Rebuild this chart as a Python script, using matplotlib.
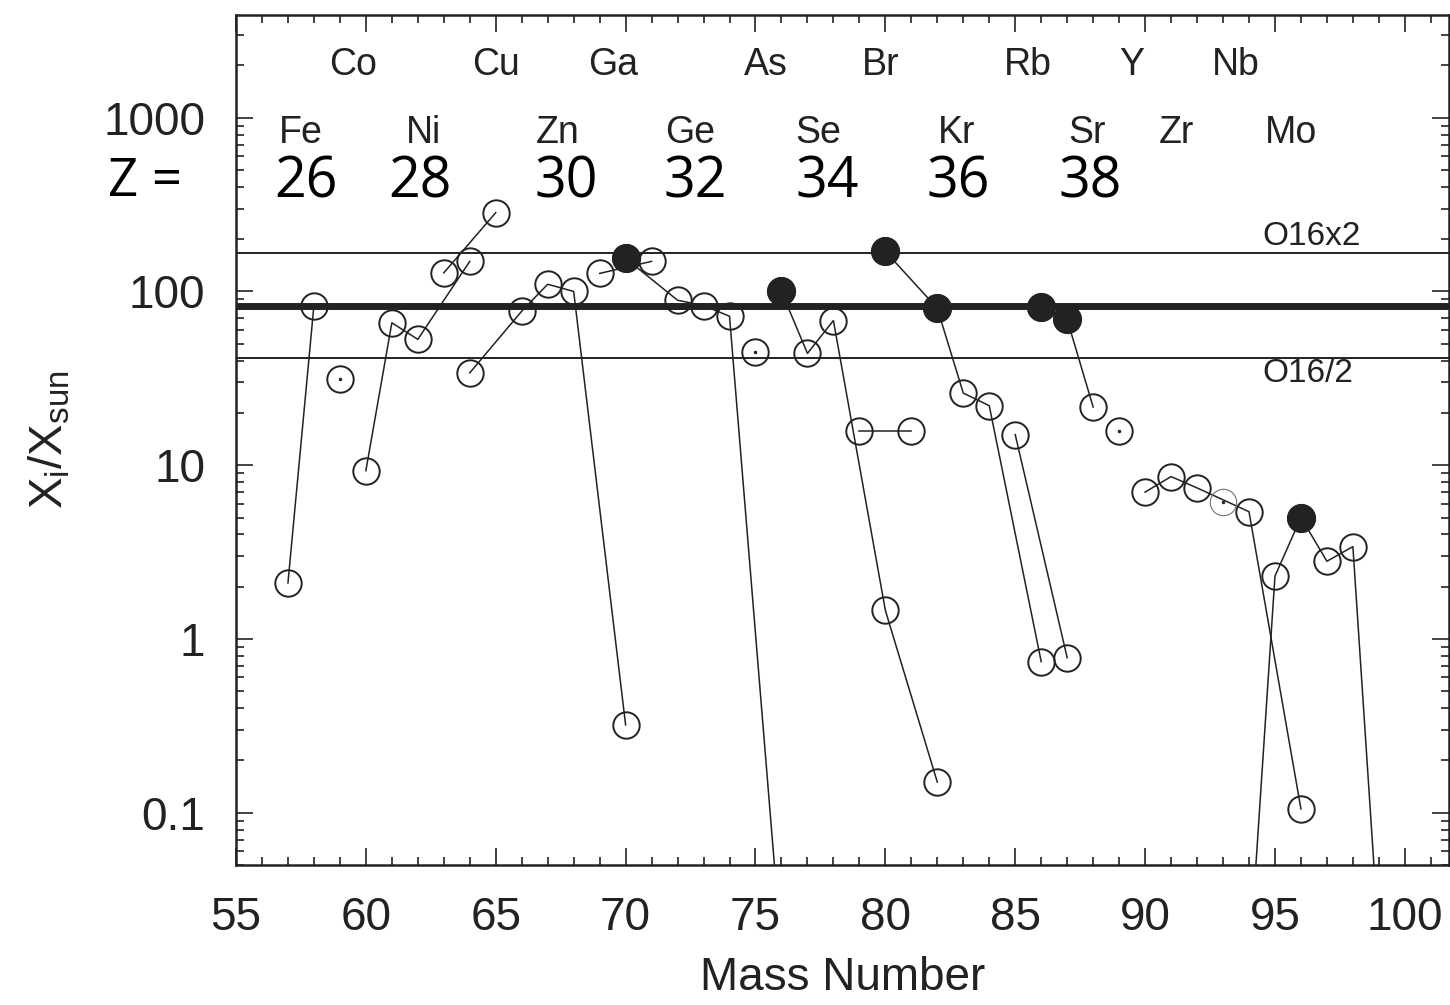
import numpy as np
import matplotlib
matplotlib.use("Agg")
import matplotlib.pyplot as plt
from matplotlib.ticker import MultipleLocator, LogLocator, FixedLocator, NullFormatter

plt.rcParams['font.family'] = ['Liberation Sans', 'DejaVu Sans']
plt.rcParams['mathtext.default'] = 'regular'

# overproduction factors X_i/X_sun per element (mass number, value)
fe_a = [57, 58];                 fe_v = [2.1, 83]
co_a = [59];                     co_v = [31.5]
ni_a = [60, 61, 62, 64];         ni_v = [9.3, 66, 53, 149]
cu_a = [63, 65];                 cu_v = [128, 284]
zn_a = [64, 66, 67, 68, 70];     zn_v = [34, 77, 110, 100, 0.32]
ga_a = [69, 71];                 ga_v = [127, 149]
ge_a = [70, 72, 73, 74, 76];     ge_v = [155, 89, 83, 72, 0.016]
as_a = [75];                     as_v = [45]
se_a = [76, 77, 78, 80, 82];     se_v = [100, 44, 68, 1.46, 0.15]
br_a = [79, 81];                 br_v = [15.7, 15.7]
kr_a = [80, 82, 83, 84, 86];     kr_v = [170, 80, 26, 22, 0.74]
rb_a = [85, 87];                 rb_v = [15, 0.78]
sr_a = [86, 87, 88];             sr_v = [81, 69, 21.6]
y_a = [89];                      y_v = [15.7]
zr_a = [90, 91, 92, 94, 96];     zr_v = [7.0, 8.6, 7.4, 5.4, 0.105]
nb_a = [93];                     nb_v = [6.1]
mo_a = [94, 95, 96, 97, 98, 100]; mo_v = [0.0125, 2.3, 5.0, 2.8, 3.4, 1e-4]

series = [("Fe", fe_a, fe_v), ("Co", co_a, co_v), ("Ni", ni_a, ni_v),
          ("Cu", cu_a, cu_v), ("Zn", zn_a, zn_v), ("Ga", ga_a, ga_v),
          ("Ge", ge_a, ge_v), ("As", as_a, as_v), ("Se", se_a, se_v),
          ("Br", br_a, br_v), ("Kr", kr_a, kr_v), ("Rb", rb_a, rb_v),
          ("Sr", sr_a, sr_v), ("Y", y_a, y_v), ("Zr", zr_a, zr_v),
          ("Nb", nb_a, nb_v), ("Mo", mo_a, mo_v)]

# s-only isotopes (filled symbols)
s_only = [("Ge", 70), ("Se", 76), ("Kr", 80), ("Kr", 82), ("Sr", 86), ("Sr", 87), ("Mo", 96)]

o16 = 83  # O16 overproduction

# element labels (two rows) and Z labels
row1_names = ["Co", "Cu", "Ga", "As", "Br", "Rb", "Y", "Nb"]
row1_x = [59.5, 65.0, 69.5, 75.4, 79.8, 85.5, 89.5, 93.5]
row2_names = ["Fe", "Ni", "Zn", "Ge", "Se", "Kr", "Sr", "Zr", "Mo"]
row2_x = [57.5, 62.2, 67.4, 72.5, 77.4, 82.75, 87.75, 91.2, 95.6]
z_labels = ["26", "28", "30", "32", "34", "36", "38"]
z_x = [57.7, 62.1, 67.7, 72.7, 77.75, 82.8, 87.9]

fig = plt.figure(figsize=(14.5, 10.05), dpi=100)
ax = fig.add_axes([236/1450, 1-865/1005, (1449-236)/1450, (865-15)/1005])
ax.set_yscale('log')
ax.set_xlim(55, 101.7)
ax.set_ylim(0.05, 3900)

ax.axhline(o16, color='#222', lw=5, zorder=1)
ax.axhline(2*o16, color='#222', lw=1.4, zorder=1)
ax.axhline(o16/2, color='#222', lw=1.4, zorder=1)

lookup = {}
for name, a, v in series:
    for ai, vi in zip(a, v):
        lookup[(name, ai)] = vi
    if name == "Nb":
        ax.plot(a, v, '-', color='#222', lw=1.1, marker='o', ms=19, mfc='none',
                mec='0.45', mew=0.8, zorder=3)
    else:
        ax.plot(a, v, '-', color='#222', lw=1.1, marker='o', ms=19, mfc='none',
                mec='#222', mew=1.4, zorder=3)
    if len(a) == 1:
        ax.plot(a, v, 'o', ms=1.5, color='#222', zorder=3)

fx = [m for _, m in s_only]
fy = [lookup[k] for k in s_only]
ax.plot(fx, fy, 'o', ms=20, color='#222', zorder=4)

for nm, x in zip(row1_names, row1_x):
    ax.text(x, 2010, nm, ha='center', va='center', fontsize=27, color='#222')
for nm, x in zip(row2_names, row2_x):
    ax.text(x, 817, nm, ha='center', va='center', fontsize=27, color='#222')
zfont = ['Open Sans', 'DejaVu Sans']
ax.text(51.5, 423, "Z =", ha='center', va='center', fontsize=38, family=zfont, clip_on=False)
for lab, x in zip(z_labels, z_x):
    ax.text(x, 423, lab, ha='center', va='center', fontsize=40, family=zfont)

ax.text(94.5, 208, "O16x2", ha='left', va='center', fontsize=24, color='#222')
ax.text(94.5, 33.5, "O16/2", ha='left', va='center', fontsize=24, color='#222')

ax.xaxis.set_major_locator(MultipleLocator(5))
ax.xaxis.set_minor_locator(MultipleLocator(1))
ax.yaxis.set_major_locator(FixedLocator([0.1, 1, 10, 100, 1000]))
ax.set_yticklabels(["0.1", "1", "10", "100", "1000"])
ax.yaxis.set_minor_locator(LogLocator(base=10, subs=np.arange(2, 10), numticks=20))
ax.yaxis.set_minor_formatter(NullFormatter())

ax.tick_params(which='both', direction='in', top=True, right=True, width=1.2, color='#222')
ax.tick_params(which='major', length=12, labelsize=33, pad=22, labelcolor='#222')
ax.tick_params(which='minor', length=6)
for s in ax.spines.values():
    s.set_linewidth(1.8)
    s.set_color('#222')

ax.set_xlabel("Mass Number", fontsize=33, labelpad=12, color='#222')
ax.set_ylabel("$X_i/X_{sun}$", fontsize=34, labelpad=22, color='#222')

fig.savefig("out.png", dpi=100)
